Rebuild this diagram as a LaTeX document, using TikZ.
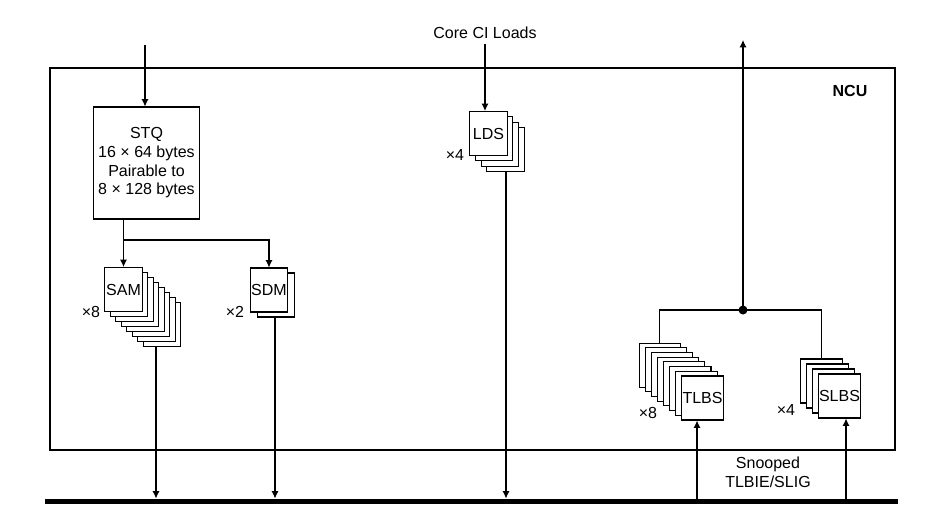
\documentclass[tikz,border=0pt]{standalone}
\usepackage{fontspec}
\setmainfont{Liberation Sans}
\usetikzlibrary{arrows.meta,fit}
\tikzset{
  arr/.style={-{Latex[length=5.5pt,width=5.25pt]}},
  blk/.style={draw,fill=white,minimum width=28pt,minimum height=33pt,inner sep=0pt},
  wblk/.style={blk,minimum width=31pt},
}
\begin{document}
\begin{tikzpicture}[x=0.75pt,y=-0.75pt,line width=0.8pt,font=\fontsize{12}{14}\selectfont]
\useasboundingbox (0,0) rectangle (949,525);
\node[draw,fit={(50,68) (895,450)},inner sep=0pt] (ncu) {};
\node[font=\fontsize{12}{14}\selectfont\bfseries] at (850,91) {NCU};
% bus
\coordinate (busL) at (45,501); \coordinate (busR) at (898,501);
\draw[line width=3.75pt] (busL) -- (busR);
\coordinate (bsam) at (156,498.5); \coordinate (bsdm) at (275,498.5); \coordinate (blds) at (506,498.5);
\coordinate (btlbs) at (697,498.5); \coordinate (bslbs) at (846,498.5);
% store queue
\coordinate (stqin) at (145,45);
\node[draw,minimum width=76pt,minimum height=84pt,align=center] (stq) at (146.5,163)
  {STQ\\16 × 64 bytes\\Pairable to\\8 × 128 bytes};
\draw[arr] (stqin) -- (stqin |- stq.north);
\foreach \i in {7,...,1} \node[blk] (sam\i) at (123.5+5.5*\i,289.5+5*\i) {};
\node[blk] (sam) at (123.5,289.5) {SAM};
\node at (91,312) {×8};
\node[blk] (sdm1) at (276,295) {};
\node[blk] (sdm) at (269,290) {SDM};
\node at (235,312) {×2};
\coordinate (split) at (123,240);
\draw[arr] (stq.south -| sam.north) -- (sam.north);
\draw[arr] (split) -| (sdm.north);
\draw[arr] (bsam |- sam7.south) -- (bsam);
\draw[arr] (bsdm |- sdm1.south) -- (bsdm);
% loads
\node (ci) at (485,33) {Core CI Loads};
\foreach \i in {3,2,1} \node[blk] (lds\i) at (488.5+5.7*\i,133.5+5.3*\i) {};
\node[blk] (lds) at (488.5,133.5) {LDS};
\node at (455,155) {×4};
\draw[arr] (ci.south) -- (ci.south |- lds.north);
\draw[arr] (blds |- lds3.south) -- (blds);
% snoop side
\foreach \i in {7,...,1} \node[wblk] (tlbs\i) at (702.5-6.1*\i,398-4.7*\i) {};
\node[wblk] (tlbs) at (702.5,398) {TLBS};
\node at (648,413) {×8};
\foreach \i in {3,2,1} \node[wblk] (slbs\i) at (839.5-6*\i,396-5*\i) {};
\node[wblk] (slbs) at (839.5,396) {SLBS};
\node at (786,410) {×4};
\coordinate (jn) at (743,310); \coordinate (snpout) at (743,40);
\draw (tlbs7.north) |- (jn) -| (slbs3.north);
\fill (jn) circle (4.5);
\draw[arr] (jn) -- (snpout);
\draw[arr] (btlbs) -- (btlbs |- tlbs.south);
\draw[arr] (bslbs) -- (bslbs |- slbs.south);
\node[align=center] at (768,472) {Snooped\\TLBIE/SLIG};
\end{tikzpicture}
\end{document}
